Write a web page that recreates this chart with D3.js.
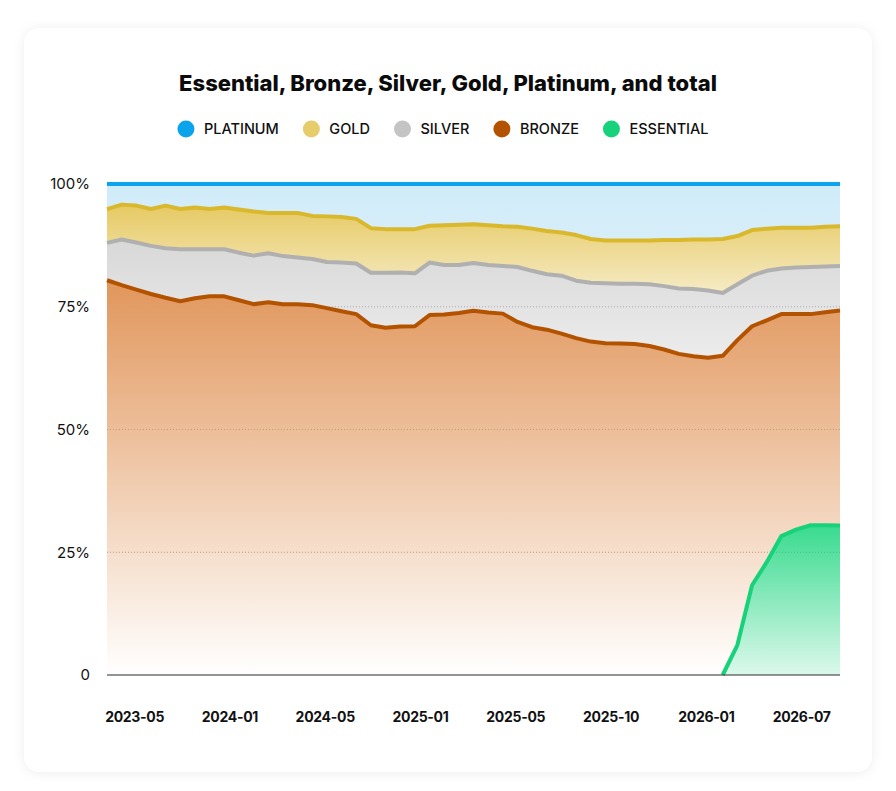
<!DOCTYPE html>
<html>
<head>
<meta charset="utf-8">
<script src="https://cdn.jsdelivr.net/npm/d3@7"></script>
<style>
  html, body { margin: 0; padding: 0; background: #fff; }
  svg { display: block; font-family: Inter, "Noto Sans", sans-serif; }
</style>
</head>
<body>
<svg id="chart" width="896" height="791"></svg>
<script>
// tiers, bottom of the stack first
var tiers = ["essential", "bronze", "silver", "gold", "platinum"];
var legendOrder = ["platinum", "gold", "silver", "bronze", "essential"];

// share of total per period (%)
var essential = [0,0,0,0,0,0,0,0,0,0, 0,0,0,0,0,0,0,0,0,0, 0,0,0,0,0,0,0,0,0,0,
  0,0,0,0,0,0,0,0,0,0, 0,0,0, 6.1,18.3,23.0,28.3,29.6,30.5,30.5,30.5];
var bronze = [80.4,79.4,78.5,77.6,76.9,76.2,76.8,77.2,77.2,76.4, 75.6,75.9,75.6,75.6,75.4,74.8,74.1,73.5,71.3,70.8,
  71.0,71.1,73.3,73.5,73.8,74.2,73.9,73.6,71.9,70.9, 70.4,69.6,68.6,67.9,67.5,67.5,67.4,67.0,66.3,65.4,
  64.9,64.7,65.0,62.1,52.8,49.3,45.2,43.9,43.0,43.4,43.8];
var silver = [7.6,9.3,9.6,9.8,10.1,10.6,10.0,9.6,9.6,9.7, 9.9,10.0,9.8,9.5,9.4,9.4,9.9,10.3,10.7,11.2,
  11.0,10.8,10.7,10.1,9.8,9.7,9.7,9.7,11.2,11.5, 11.3,11.8,11.7,12.0,12.2,12.2,12.3,12.6,12.9,13.3,
  13.7,13.7,12.8,11.4,10.3,10.1,9.3,9.5,9.6,9.3,9.1];
var gold = [6.9,7.1,7.5,7.5,8.7,8.2,8.5,8.2,8.5,8.8, 9.0,8.2,8.8,9.1,8.8,9.3,9.3,9.1,9.1,8.9,
  8.8,9.0,7.5,8.1,8.2,7.9,8.1,8.1,8.2,8.6, 8.8,8.8,9.3,8.9,8.7,8.8,8.8,8.9,9.4,9.9,
  10.1,10.4,11.0,9.8,9.3,8.6,8.3,8.1,8.0,8.1,8.1];
var platinum = [5.1,4.2,4.4,5.1,4.4,5.1,4.8,5.1,4.8,5.2, 5.6,5.9,5.9,5.9,6.5,6.6,6.7,7.1,9.0,9.2,
  9.2,9.2,8.5,8.4,8.3,8.2,8.4,8.6,8.7,9.1, 9.6,9.9,10.4,11.2,11.5,11.5,11.5,11.5,11.4,11.4,
  11.3,11.3,11.2,10.6,9.4,9.1,8.9,8.9,8.9,8.7,8.6];

// x axis labels and where they sit, in period index units
var tickLabels = ["2023-05", "2024-01", "2024-05", "2025-01", "2025-05", "2025-10", "2026-01", "2026-07"];
var tickAt = [1.85, 8.35, 14.85, 21.35, 27.85, 34.35, 40.85, 47.35];
var yTicks = [0, 0.25, 0.5, 0.75, 1];

var colors = {
  platinum: { line: "#0aa3ec", dot: "#0aa3ec", fill: "#8fd0f0", top: 0.42, bottom: 0.36 },
  gold:     { line: "#dab82c", dot: "#e6cc6a", fill: "#e0bc3c", top: 0.8,  bottom: 0.3 },
  silver:   { line: "#b0b0b0", dot: "#c4c4c4", fill: "#c0c0c0", top: 0.62, bottom: 0.3 },
  bronze:   { line: "#b35300", dot: "#b35300", fill: "#e1965b", top: 1.0,  bottom: 0.0 },
  essential:{ line: "#17d27a", dot: "#17d27a", fill: "#16d47b", top: 0.85, bottom: 0.15 }
};

(function() {
  var series = { essential: essential, bronze: bronze, silver: silver, gold: gold, platinum: platinum };
  var rows = essential.map(function(_, i) {
    var r = { period: i };
    tiers.forEach(function(k) { r[k] = series[k][i]; });
    return r;
  });

  var svg = d3.select("#chart");
  var plotLeft = 107, plotRight = 840, plotTop = 184, plotBottom = 675;

  var defs = svg.append("defs");
  var shadow = defs.append("filter").attr("id", "shadow")
    .attr("x", "-10%").attr("y", "-10%").attr("width", "120%").attr("height", "120%");
  shadow.append("feDropShadow").attr("dx", 0).attr("dy", 1)
    .attr("stdDeviation", 6).attr("flood-color", "#000").attr("flood-opacity", 0.07);

  svg.append("rect")
    .attr("x", 24).attr("y", 28).attr("width", 848).attr("height", 744)
    .attr("rx", 16).attr("fill", "#fff").attr("filter", "url(#shadow)");

  var x = d3.scaleLinear().domain([0, rows.length - 1]).range([plotLeft, plotRight]);
  var y = d3.scaleLinear().domain([0, 1]).range([plotBottom, plotTop]);

  var stacked = d3.stack().keys(tiers).offset(d3.stackOffsetExpand)(rows);

  // grid
  svg.append("g").selectAll("line")
    .data(yTicks.filter(function(t) { return t > 0; }))
    .join("line")
    .attr("x1", plotLeft).attr("x2", plotRight)
    .attr("y1", function(d) { return y(d); }).attr("y2", function(d) { return y(d); })
    .attr("stroke", "#9a9a9a").attr("stroke-width", 1).attr("stroke-dasharray", "1,2");

  tiers.forEach(function(k) {
    var g = defs.append("linearGradient").attr("id", "grad-" + k)
      .attr("x1", 0).attr("y1", 0).attr("x2", 0).attr("y2", 1);
    g.append("stop").attr("offset", "0%").attr("stop-color", colors[k].fill).attr("stop-opacity", colors[k].top);
    g.append("stop").attr("offset", "100%").attr("stop-color", colors[k].fill).attr("stop-opacity", colors[k].bottom);
  });

  var area = d3.area()
    .x(function(d) { return x(d.data.period); })
    .y0(function(d) { return y(d[0]); })
    .y1(function(d) { return y(d[1]); });

  svg.append("g").selectAll("path")
    .data(stacked)
    .join("path")
    .attr("d", area)
    .attr("fill", function(s) { return "url(#grad-" + s.key + ")"; });

  // top edge of each tier; skip the flat run before a tier exists
  var line = d3.line()
    .defined(function(d, i, arr) {
      var next = arr[i + 1];
      return d[1] - d[0] > 0 || (next && next[1] - next[0] > 0);
    })
    .x(function(d) { return x(d.data.period); })
    .y(function(d) { return y(d[1]); });

  svg.append("g").selectAll("path")
    .data(stacked)
    .join("path")
    .attr("d", function(s) { return line(s); })
    .attr("fill", "none")
    .attr("stroke", function(s) { return colors[s.key].line; })
    .attr("stroke-width", 4)
    .attr("stroke-linejoin", "round");

  // baseline
  svg.append("line")
    .attr("x1", plotLeft).attr("x2", plotRight).attr("y1", y(0)).attr("y2", y(0))
    .attr("stroke", "#2b2b2b").attr("stroke-width", 1.2);

  // y labels
  svg.append("g").selectAll("text")
    .data(yTicks)
    .join("text")
    .attr("x", 90).attr("y", function(d) { return y(d); })
    .attr("dy", "0.35em")
    .attr("text-anchor", "end")
    .attr("font-size", 15).attr("fill", "#111")
    .text(function(d) { return d === 0 ? "0" : d3.format(".0%")(d); });

  // x axis
  var xAxis = d3.axisBottom(x)
    .tickValues(tickAt)
    .tickFormat(function(d, i) { return tickLabels[i]; })
    .tickSize(0).tickPadding(0);

  var ax = svg.append("g").attr("transform", "translate(0,717)").call(xAxis);
  ax.select(".domain").remove();
  ax.selectAll("text")
    .attr("dy", "0.35em")
    .attr("font-family", "Inter, 'Noto Sans', sans-serif")
    .attr("font-size", 14).attr("font-weight", 700).attr("fill", "#111")
    .attr("letter-spacing", "-0.3");

  // title
  svg.append("text")
    .attr("x", 448).attr("y", 83).attr("dy", "0.35em")
    .attr("text-anchor", "middle")
    .attr("font-size", 22).attr("font-weight", 800).attr("fill", "#0b0b0b")
    .text("Essential, Bronze, Silver, Gold, Platinum, and total");

  // legend
  var legend = svg.append("g");
  var items = legend.selectAll("g").data(legendOrder).join("g");
  items.append("circle").attr("r", 8.5).attr("cx", 8.5).attr("cy", 0)
    .attr("fill", function(k) { return colors[k].dot; });
  items.append("text").attr("x", 26.5).attr("dy", "0.35em")
    .attr("font-size", 14.5).attr("font-weight", 500).attr("fill", "#111")
    .text(function(k) { return k.toUpperCase(); });

  var offset = 0;
  items.each(function() {
    var w = this.getBBox().width;
    d3.select(this).attr("transform", "translate(" + offset + ",0)");
    offset += w + 24;
  });
  var total = offset - 24;
  legend.attr("transform", "translate(" + (443 - total / 2) + ",129)");
})();
</script>
</body>
</html>
